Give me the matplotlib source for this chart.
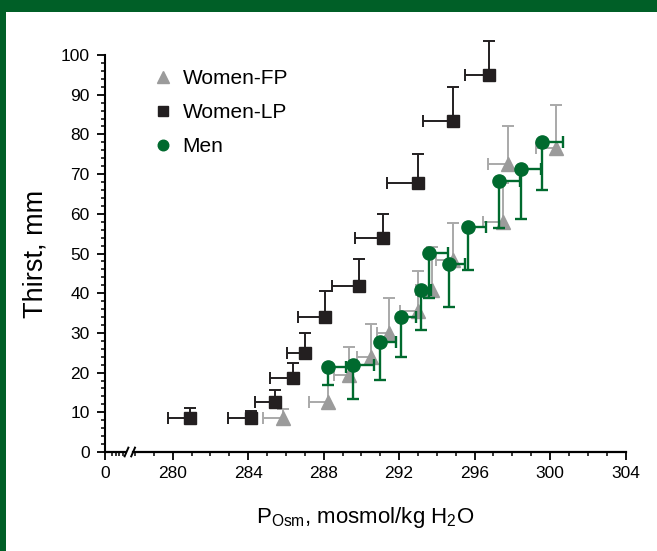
import numpy as np
import matplotlib.pyplot as plt
from matplotlib.patches import Rectangle
import matplotlib.transforms as mtransforms

plt.rcParams['font.family'] = ['Liberation Sans', 'DejaVu Sans']
plt.rcParams['mathtext.default'] = 'regular'

# Women, follicular phase (gray triangles): error bars to the left and up
fp_x = [285.83, 288.25, 289.36, 290.51, 291.48, 292.98, 293.73, 294.87, 297.52, 297.75, 300.31]
fp_y = [8.5, 12.7, 19.4, 23.9, 30.1, 35.5, 40.8, 48.4, 58.0, 72.5, 76.5]
fp_xerr = [1.03, 1.05, 0.81, 0.76, 0.67, 0.93, 0.83, 0.92, 1.06, 1.03, 1.06]
fp_yerr = [2.3, 4.1, 7.0, 8.4, 8.7, 10.2, 10.9, 9.4, 9.8, 9.6, 10.9]

# Women, luteal phase (black squares)
lp_x = [280.93, 284.15, 285.42, 286.39, 287.01, 288.07, 289.87, 291.16, 292.98, 294.87, 296.78]
lp_y = [8.5, 8.6, 12.7, 18.6, 25.0, 34.1, 41.8, 53.8, 67.7, 83.4, 95.0]
lp_xerr = [1.16, 1.2, 1.06, 1.23, 0.97, 1.45, 1.44, 1.5, 1.64, 1.62, 1.29]
lp_yerr = [2.5, 1.8, 2.9, 3.8, 5.1, 6.5, 6.7, 6.1, 7.4, 8.5, 8.6]

# Men (green circles): error bars to the right and down
men_x = [288.21, 289.57, 290.99, 292.08, 293.18, 293.6, 294.62, 295.66, 297.29, 298.46, 299.59]
men_y = [21.5, 21.9, 27.7, 34.1, 40.8, 50.2, 47.3, 56.8, 68.3, 71.3, 78.2]
men_xerr = [1.0, 1.12, 0.83, 0.81, 0.5, 1.0, 0.88, 0.93, 1.1, 1.06, 1.08]
men_yerr = [4.6, 8.55, 9.6, 10.1, 10.1, 11.3, 10.7, 10.9, 11.9, 12.7, 12.3]

x_ticks = [280, 284, 288, 292, 296, 300, 304]
y_ticks = list(range(0, 101, 10))

GREEN = '#006a2e'
FRAME = '#005f27'
GRAY = '#9b9b9b'
GRAY_BAR = '#a9a9a9'
BLACK = '#231f20'

X0 = 276.41     # where the "0" of the broken x axis sits
BREAK = (277.55, 277.9)


def draw_series(ax, x, y, xerr, yerr, color, barcolor, marker, ms, lw, xdir, ydir, z, label):
    x = np.array(x)
    y = np.array(y)
    xend = x + xdir * np.array(xerr)
    yend = y + ydir * np.array(yerr)
    ax.hlines(y, x, xend, color=barcolor, lw=lw, zorder=z, clip_on=False)
    ax.vlines(x, y, yend, color=barcolor, lw=lw, zorder=z, clip_on=False)
    ax.plot(xend, y, ls='none', marker='|', ms=8, mew=lw, color=barcolor, zorder=z, clip_on=False)
    ax.plot(x, yend, ls='none', marker='_', ms=8, mew=lw, color=barcolor, zorder=z, clip_on=False)
    h, = ax.plot(x, y, ls='none', marker=marker, ms=ms, color=color, mec=color,
                 zorder=z + 0.5, clip_on=False, label=label)
    return h


fig = plt.figure(figsize=(6.57, 5.51), dpi=100)
# green frame of the journal figure
fig.add_artist(Rectangle((0, 1 - 12 / 551), 1, 12 / 551, transform=fig.transFigure,
                         color=FRAME, lw=0))
fig.add_artist(Rectangle((0, 0), 5.5 / 657, 1, transform=fig.transFigure, color=FRAME, lw=0))

ax = fig.add_axes([105 / 657, 99 / 551, 520.5 / 657, 397 / 551])

h_fp = draw_series(ax, fp_x, fp_y, fp_xerr, fp_yerr, GRAY, GRAY_BAR, '^', 10.5, 1.4, -1, 1, 3, 'Women-FP')
h_lp = draw_series(ax, lp_x, lp_y, lp_xerr, lp_yerr, BLACK, BLACK, 's', 9.3, 1.4, -1, 1, 4, 'Women-LP')
h_men = draw_series(ax, men_x, men_y, men_xerr, men_yerr, GREEN, GREEN, 'o', 9.5, 1.7, 1, -1, 5, 'Men')

ax.set_xlim(X0, 304)
ax.set_ylim(0, 100)

for s in ['top', 'right']:
    ax.spines[s].set_visible(False)
ax.spines['left'].set_linewidth(1.5)
ax.spines['bottom'].set_linewidth(1.6)
ax.spines['bottom'].set_bounds(BREAK[1], 304)

# short piece of the x axis before the break, plus the break marks
trans = mtransforms.blended_transform_factory(ax.transData, ax.transAxes)
ax.plot([X0, BREAK[0]], [0, 0], color='black', lw=1.6, transform=trans, clip_on=False,
        solid_capstyle='butt')
for b in BREAK:
    ax.plot([b - 0.1, b + 0.1], [-0.011, 0.011], color='black', lw=1.4, transform=trans,
            clip_on=False)

ax.set_xticks([X0] + x_ticks)
ax.set_xticklabels(['0'] + [str(t) for t in x_ticks])
minor_x = [276.77, 276.98, 277.17, 277.38] + [v for v in range(278, 304) if v not in x_ticks]
ax.set_xticks(minor_x, minor=True)
ax.set_yticks(y_ticks)
ax.set_yticks(range(0, 101, 2), minor=True)

ax.tick_params(which='major', direction='out', length=6, width=1.3, labelsize=12.5, pad=4)
ax.tick_params(which='minor', direction='out', length=3.2, width=1.1)
ax.tick_params(axis='y', which='major', pad=5)

ax.set_ylabel('Thirst, mm', fontsize=19.5, labelpad=9)
ax.set_xlabel(r'$P_{Osm}$, mosmol/kg H$_2$O', fontsize=16, labelpad=17)

ax.legend(handles=[h_fp, h_lp, h_men], loc='upper left', bbox_to_anchor=(0.091, 0.965),
          frameon=False, fontsize=15, markerscale=0.8, handlelength=1.0,
          handletextpad=0.45, labelspacing=0.72, borderpad=0, borderaxespad=0)

plt.savefig('out.png', dpi=100)
